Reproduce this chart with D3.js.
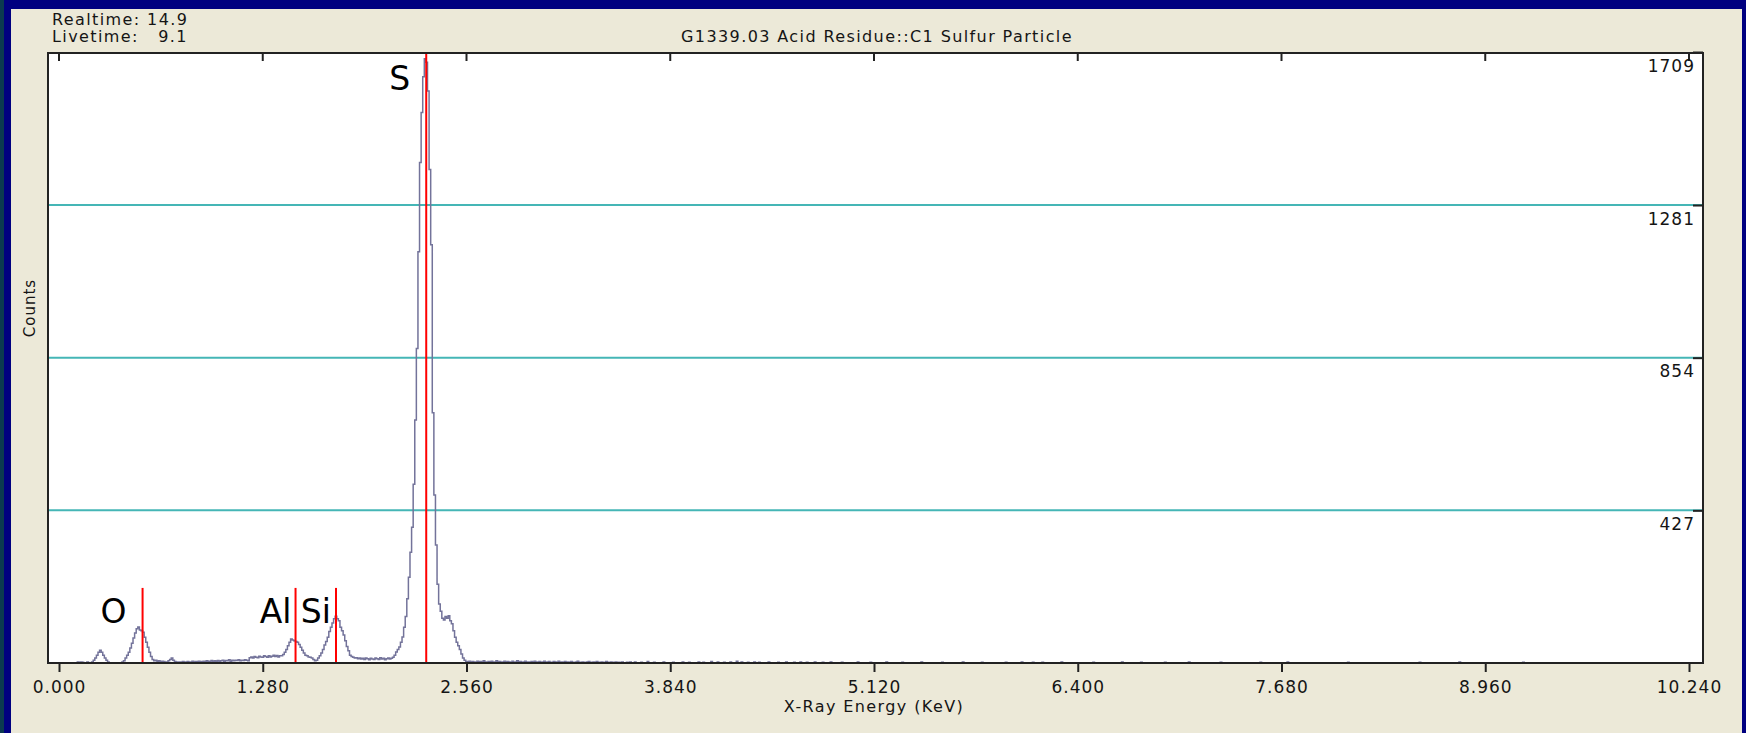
<!DOCTYPE html>
<html lang="en">
<head>
<meta charset="UTF-8">
<title>G1339.03 Acid Residue::C1 Sulfur Particle</title>
<script src="https://cdn.jsdelivr.net/npm/d3@7"></script>
<style>
    body { margin: 0; background: #000080; }
    svg { display: block; }
    text { font-family: "DejaVu Sans", Verdana, sans-serif; fill: #151515; }
    .info { font-size: 16px; letter-spacing: 1.4px; white-space: pre; }
    .tick-label { font-size: 17px; letter-spacing: 1px; }
    .element { font-size: 33px; fill: #000; }
</style>
</head>
<body>
<div id="graphDiv"></div>
<script>
// header values
const title = "G1339.03 Acid Residue::C1 Sulfur Particle";
const realtime = "14.9";
const livetime = "9.1";

// axis ticks
const xTicks = [0, 1.28, 2.56, 3.84, 5.12, 6.4, 7.68, 8.96, 10.24];
const yTicks = [427, 854, 1281, 1709];

// element markers
const elements = ["O", "Al", "Si", "S"];
const elementKeV = [0.525, 1.486, 1.740, 2.307];
const markerCounts = [210, 210, 210, 1709];

// spectrum, 10 eV channels from 0.00 to 3.59 keV
const channelKeV = 0.01;
const countsLow = [
    0, 0, 0, 0, 0, 0, 0, 0, 0, 0,
    0, 0, 3, 0, 3, 2, 0, 0, 3, 0,
    0, 3, 8, 14, 22, 30, 36, 30, 22, 14,
    8, 3, 0, 0, 0, 0, 0, 0, 0, 0,
    3, 6, 14, 22, 30, 42, 55, 70, 84, 96,
    101, 92, 90, 86, 72, 58, 44, 30, 18, 10,
    6, 8, 5, 6, 3, 5, 4, 2, 3, 6,
    10, 14, 8, 4, 3, 2, 3, 2, 4, 3,
    2, 4, 3, 3, 5, 2, 4, 3, 5, 4,
    3, 5, 4, 6, 3, 5, 7, 4, 6, 5,
    7, 5, 6, 8, 5, 7, 6, 9, 5, 8,
    6, 8, 7, 9, 6, 8, 7, 9, 8, 6,
    15, 17, 14, 18, 16, 15, 19, 17, 16, 20,
    18, 16, 20, 17, 19, 22, 18, 21, 17, 20,
    20, 24, 30, 38, 48, 58, 67, 64, 62, 60,
    58, 52, 44, 36, 28, 22, 20, 17, 16, 14,
    10, 6, 8, 14, 20, 28, 38, 50, 60, 72,
    88, 100, 112, 124, 131, 124, 118, 100, 90, 78,
    62, 46, 34, 22, 18, 16, 14, 15, 12, 14,
    11, 13, 10, 14, 12, 9, 13, 11, 10, 14,
    12, 10, 15, 11, 13, 9, 12, 14, 11, 13,
    16, 22, 31, 38, 45, 58, 73, 100, 130, 180,
    240, 310, 380, 500, 680, 880, 1150, 1400, 1540, 1640,
    1690, 1680, 1600, 1380, 1170, 700, 470, 330, 220, 165,
    145, 125, 120, 130, 125, 132, 118, 110, 90, 72,
    58, 48, 38, 25, 14, 8, 4, 3, 5, 2,
    4, 3, 0, 5, 3, 4, 2, 6, 3, 0,
    4, 3, 5, 2, 3, 6, 2, 4, 0, 3,
    5, 2, 4, 3, 0, 5, 2, 3, 6, 2,
    4, 0, 3, 5, 2, 3, 0, 4, 2, 5,
    3, 2, 4, 0, 3, 5, 2, 3, 4, 0,
    2, 4, 3, 0, 5, 2, 3, 0, 4, 2,
    3, 0, 4, 2, 0, 3, 5, 2, 0, 3,
    2, 0, 3, 4, 0, 2, 3, 0, 4, 2,
    0, 3, 2, 0, 4, 2, 0, 3, 0, 2,
    3, 0, 2, 0, 3, 0, 0, 2, 0, 3
];

// sparse background counts above 3.6 keV
const blipKeV = [3.62, 3.66, 3.70, 3.74, 3.80, 3.86, 3.92, 3.96, 4.02, 4.05, 4.10, 4.14, 4.18, 4.22, 4.26,
    4.29, 4.33, 4.37, 4.40, 4.46, 4.52, 4.57, 4.62, 4.66, 4.70, 4.75, 4.80, 4.85, 4.92, 5.02, 5.10,
    5.20, 5.30, 5.42, 5.55, 5.68, 5.80, 5.95, 6.05, 6.12, 6.18, 6.30, 6.50, 6.68, 6.80, 6.95, 7.10,
    7.30, 7.55, 7.72, 8.10, 8.55, 8.80, 9.20];
const blipCounts = [3, 2, 4, 2, 3, 2, 3, 2, 3, 2, 4, 3, 2, 3, 5,
    3, 2, 3, 2, 3, 2, 3, 2, 3, 2, 3, 2, 3, 2, 3, 2,
    3, 2, 3, 2, 3, 2, 2, 3, 2, 2, 3, 2, 3, 2, 2, 3,
    2, 2, 3, 2, 2, 3, 2];

const width = 1746, height = 733;
const box = {left: 48, right: 1703, top: 53, bottom: 663};

const x = d3.scaleLinear().domain([0, 10.24]).range([59, 1689]);
const y = d3.scaleLinear().domain([0, 1709]).range([663, 52]);

// build channel list
const channels = new Array(1024).fill(0);
countsLow.forEach((c, i) => channels[i] = c);
blipKeV.forEach((e, i) => channels[Math.round(e / channelKeV)] = blipCounts[i]);
const spectrum = channels.map((c, i) => [i * channelKeV, c]);

const svg = d3.select("#graphDiv").append("svg")
    .attr("width", width)
    .attr("height", height);

// window frame
svg.append("rect").attr("width", width).attr("height", height).attr("fill", "#000080");
svg.append("rect").attr("width", 4).attr("height", height).attr("fill", "#0b3a50");
svg.append("rect")
    .attr("x", 11).attr("y", 9)
    .attr("width", 1731).attr("height", height - 9)
    .attr("fill", "#ece9d8");

// plot area
svg.append("rect")
    .attr("x", box.left).attr("y", box.top)
    .attr("width", box.right - box.left).attr("height", box.bottom - box.top)
    .attr("fill", "#fff");

svg.append("defs").append("clipPath").attr("id", "clip")
    .append("rect")
    .attr("x", box.left).attr("y", box.top)
    .attr("width", box.right - box.left).attr("height", box.bottom - box.top);

// gridlines
svg.append("g")
    .selectAll("line")
    .data(yTicks.slice(0, -1))
    .join("line")
    .attr("x1", box.left).attr("x2", box.right)
    .attr("y1", d => y(d)).attr("y2", d => y(d))
    .attr("stroke", "#45b6b6")
    .attr("stroke-width", 2);

// spectrum
const line = d3.line()
    .x(d => x(d[0]))
    .y(d => y(d[1]))
    .curve(d3.curveStep);

svg.append("path")
    .datum(spectrum)
    .attr("clip-path", "url(#clip)")
    .attr("fill", "none")
    .attr("stroke", "#73739a")
    .attr("stroke-width", 1.5)
    .attr("d", line);

// element markers
svg.append("g")
    .selectAll("line")
    .data(elements)
    .join("line")
    .attr("x1", (d, i) => x(elementKeV[i]))
    .attr("x2", (d, i) => x(elementKeV[i]))
    .attr("y1", y(0))
    .attr("y2", (d, i) => Math.max(y(markerCounts[i]), box.top))
    .attr("stroke", "#ff0000")
    .attr("stroke-width", 2);

const labelDx = [16, 4, 5, 16];
const labelDy = [35, 35, 35, 38];
svg.append("g")
    .selectAll("text")
    .data(elements)
    .join("text")
    .attr("class", "element")
    .attr("text-anchor", "end")
    .attr("x", (d, i) => x(elementKeV[i]) - labelDx[i])
    .attr("y", (d, i) => y(markerCounts[i]) + labelDy[i])
    .text(d => d);

// plot border
svg.append("rect")
    .attr("x", box.left).attr("y", box.top)
    .attr("width", box.right - box.left).attr("height", box.bottom - box.top)
    .attr("fill", "none")
    .attr("stroke", "#222")
    .attr("stroke-width", 2);

// bottom axis
const xAxis = svg.append("g")
    .attr("transform", `translate(0,${box.bottom})`)
    .call(d3.axisBottom(x).tickValues(xTicks).tickFormat(d3.format(".3f")).tickSize(9).tickPadding(9));
xAxis.select(".domain").remove();
xAxis.selectAll("line").attr("stroke", "#222").attr("stroke-width", 2);
xAxis.selectAll("text")
    .attr("class", "tick-label")
    .attr("font-family", null).attr("font-size", null)
    .attr("fill", "#151515");

// ticks along the top edge
svg.append("g")
    .selectAll("line")
    .data(xTicks)
    .join("line")
    .attr("x1", d => x(d)).attr("x2", d => x(d))
    .attr("y1", box.top).attr("y2", box.top + 8)
    .attr("stroke", "#222").attr("stroke-width", 2);

// right axis labels
const yAxis = svg.append("g")
    .attr("transform", `translate(${box.right},0)`)
    .call(d3.axisLeft(y).tickValues(yTicks).tickFormat(d3.format("d")).tickSize(10).tickPadding(0));
yAxis.select(".domain").remove();
yAxis.selectAll("line").attr("stroke", "#222").attr("stroke-width", 2);
yAxis.selectAll("text")
    .attr("class", "tick-label")
    .attr("font-family", null).attr("font-size", null)
    .attr("fill", "#151515")
    .attr("x", -8).attr("dy", 19)
    .attr("text-anchor", "end");

// titles
svg.append("text").attr("class", "info").attr("x", 52).attr("y", 25).text("Realtime: " + realtime);
svg.append("text").attr("class", "info").attr("x", 52).attr("y", 42).text("Livetime:   " + livetime);
svg.append("text").attr("class", "info").attr("x", 877).attr("y", 42)
    .attr("text-anchor", "middle").text(title);

svg.append("text").attr("class", "info")
    .attr("x", 874).attr("y", 712)
    .attr("text-anchor", "middle")
    .text("X-Ray Energy (KeV)");

svg.append("text").attr("class", "info")
    .attr("transform", "translate(35,308)rotate(-90)")
    .attr("text-anchor", "middle")
    .style("font-size", "15px").style("letter-spacing", "1px")
    .text("Counts");
</script>
</body>
</html>
